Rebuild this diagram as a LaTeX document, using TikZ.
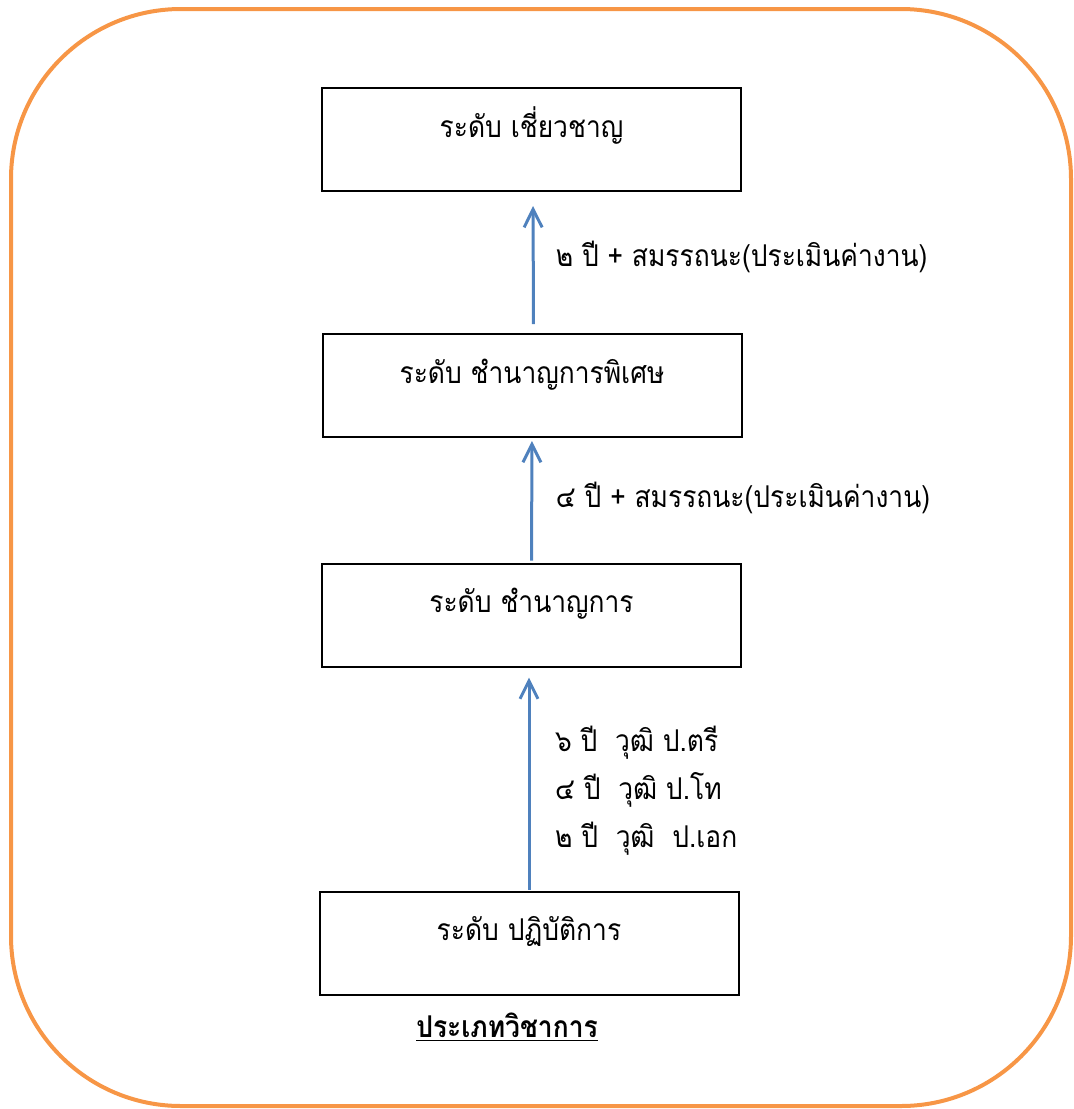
\documentclass[tikz,border=0pt]{standalone}
\usepackage{fontspec}
\setmainfont[Script=Thai, FakeStretch=0.88]{Loma}
\usepackage{tikz}
\usetikzlibrary{shapes,positioning,calc}
\usetikzlibrary{arrows.meta}
\definecolor{bordo}{RGB}{247,150,70}
\definecolor{freccia}{RGB}{79,129,189}
\tikzstyle{livello} = [rectangle, minimum width=209.5pt, minimum height=51.5pt, text centered, draw=black, line width=1pt, font=\fontsize{15}{20}\selectfont, text height=12pt, text depth=14.5pt]
\tikzstyle{arrow} = [draw=freccia, line width=1.5pt, ->, >={Straight Barb[length=9pt,width=9pt]}]
\tikzstyle{etichetta} = [inner sep=0pt, font=\fontsize{15}{24}\selectfont, align=left]
\begin{document}
\begin{tikzpicture}[x=0.5pt,y=-0.5pt]
						\useasboundingbox (0,0) rectangle (1073,1109);
						\draw[bordo, line width=2pt, rounded corners=85pt] (11,9) rectangle (1071,1106);
						\node (r1) at (531.5,139.5) [livello] {ระดับ เชี่ยวชาญ};
						\node (r2) at (532,385.5) [livello] {ระดับ ชำนาญการพิเศษ};
						\node (r3) at (531.5,615) [livello] {ระดับ ชำนาญการ};
						\node (r4) at (529,943) [livello] {ระดับ ปฏิบัติการ};
						\draw[arrow, shorten <=4.5pt, shorten >=7pt] ([xshift=0.75pt]r2.north) -- ([xshift=0.75pt]r1.south) node[midway, anchor=base west, etichetta, xshift=10.5pt, yshift=-1.75pt] (l1) {๒ ปี + สมรรถนะ(ประเมินค่างาน)};
						\draw[arrow, shorten <=1pt, shorten >=1.5pt] (r3.north) -- (r2.south) node[midway, anchor=base west, etichetta, xshift=11.25pt, yshift=-3.5pt] (l2) {๔ ปี + สมรรถนะ(ประเมินค่างาน)};
						\draw[arrow, shorten <=0.5pt, shorten >=5pt] (r4.north) -- (r4.north |- r3.south) node[midway, anchor=west, etichetta, xshift=12.25pt, yshift=-5.75pt] (l3) {๖ ปี\ \ วุฒิ ป.ตรี\\ ๔ ปี\ \ วุฒิ ป.โท\\ ๒ ปี\ \ วุฒิ\ \ ป.เอก};
						\node (titolo) at (507,1037) [anchor=base, inner sep=0pt, font=\fontsize{15}{20}\selectfont\bfseries] {\underline{ประเภทวิชาการ}};
					\end{tikzpicture}
\end{document}
